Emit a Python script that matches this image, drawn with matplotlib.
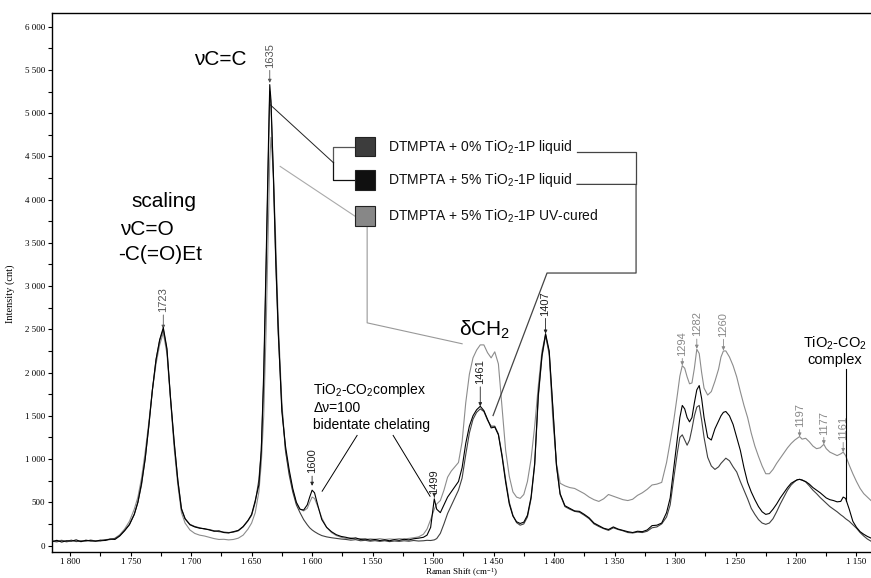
import matplotlib
matplotlib.use("Agg")
import matplotlib.pyplot as plt
from matplotlib.patches import Rectangle
from matplotlib.ticker import MultipleLocator, FuncFormatter

# Raman shift grid (cm-1), rows of 10
shift = [
    1815, 1811, 1807, 1803, 1799, 1795, 1791, 1787, 1783, 1779,
    1775, 1771, 1767, 1763, 1759, 1755, 1751, 1747, 1744, 1741,
    1738, 1735, 1732, 1729, 1726, 1723, 1720, 1717, 1714, 1711,
    1708, 1705, 1701, 1697, 1693, 1689, 1685, 1681, 1677, 1673,
    1669, 1665, 1661, 1657, 1653, 1650, 1647, 1644, 1642, 1640,
    1638, 1636, 1635, 1634, 1632, 1630, 1628, 1625, 1622, 1619,
    1616, 1613, 1610, 1607, 1604, 1602, 1600, 1598, 1595, 1592,
    1588, 1584, 1580, 1576, 1572, 1568, 1564, 1560, 1556, 1552,
    1548, 1544, 1540, 1536, 1532, 1528, 1524, 1520, 1516, 1512,
    1508, 1505, 1502, 1499, 1497, 1494, 1491, 1488, 1485, 1482,
    1479, 1476, 1473, 1470, 1467, 1464, 1461, 1458, 1455, 1452,
    1449, 1446, 1443, 1440, 1437, 1434, 1431, 1428, 1425, 1422,
    1419, 1416, 1413, 1410, 1407, 1404, 1401, 1398, 1395, 1391,
    1387, 1383, 1379, 1375, 1371, 1367, 1363, 1359, 1355, 1351,
    1347, 1343, 1339, 1335, 1331, 1327, 1323, 1319, 1315, 1311,
    1307, 1304, 1301, 1298, 1296, 1294, 1292, 1290, 1288, 1286,
    1284, 1282, 1280, 1278, 1276, 1273, 1270, 1267, 1264, 1262,
    1260, 1258, 1255, 1252, 1249, 1246, 1243, 1240, 1237, 1234,
    1231, 1228, 1225, 1222, 1219, 1216, 1213, 1210, 1207, 1204,
    1201, 1199, 1197, 1195, 1192, 1189, 1186, 1183, 1180, 1177,
    1175, 1172, 1169, 1166, 1163, 1161, 1159, 1156, 1153, 1150,
    1147, 1144, 1141, 1138,
]

# DTMPTA + 0% TiO2-1P liquid
liquid_0 = [
    50, 42, 58, 48, 62, 45, 55, 50, 63, 52,
    55, 68, 72, 80, 115, 175, 245, 360, 500, 700,
    1000, 1380, 1800, 2150, 2370, 2500, 2260, 1700, 1180, 760,
    430, 310, 245, 220, 205, 190, 185, 170, 160, 155,
    150, 155, 170, 215, 285, 350, 500, 760, 1100, 1900,
    3200, 4600, 5250, 5100, 4250, 3250, 2450, 1600, 1100, 820,
    620, 470, 380, 300, 240, 205, 180, 160, 135, 115,
    100, 90, 82, 75, 70, 62, 68, 55, 60, 50,
    56, 48, 55, 45, 52, 48, 55, 50, 58, 52,
    55, 60, 58, 65, 80, 140, 250, 370, 460, 550,
    640, 780, 1050, 1300, 1460, 1540, 1580, 1550, 1450, 1380,
    1380, 1290, 1050, 760, 500, 350, 265, 235, 250, 330,
    540, 930, 1720, 2180, 2430, 2230, 1580, 920, 590, 450,
    420, 395, 385, 350, 310, 250, 220, 195, 175, 205,
    185, 170, 150, 145, 155, 150, 165, 205, 215, 250,
    330, 470, 780, 1080, 1250, 1280, 1220, 1160, 1220, 1350,
    1500, 1600, 1620, 1450, 1250, 1020, 920, 880, 910, 950,
    980, 1010, 980, 910, 850, 740, 640, 540, 430, 360,
    300, 260, 245, 260, 310, 390, 480, 560, 640, 700,
    740, 760, 765, 760, 735, 690, 640, 600, 555, 515,
    490, 450, 420, 390, 355, 335, 310, 280, 240, 200,
    150, 110, 75, 50,
]

# DTMPTA + 5% TiO2-1P liquid
liquid_5 = [
    45, 60, 40, 55, 50, 65, 45, 60, 55, 50,
    62, 58, 75, 70, 110, 170, 240, 360, 500, 720,
    1000, 1380, 1800, 2150, 2380, 2520, 2280, 1700, 1200, 750,
    420, 310, 240, 215, 200, 195, 180, 165, 170, 150,
    145, 160, 175, 220, 290, 360, 520, 700, 1100, 2000,
    3300, 4700, 5330, 5150, 4300, 3300, 2500, 1550, 1150, 880,
    660, 500, 420, 410, 470, 560, 640, 610, 450, 300,
    210, 160, 125, 105, 95, 80, 88, 70, 75, 62,
    70, 58, 66, 55, 68, 60, 72, 65, 78, 85,
    95, 120, 210, 540, 420, 380, 470, 560, 620, 680,
    740, 900, 1180, 1380, 1500, 1570, 1610, 1560, 1460, 1360,
    1370, 1280, 1030, 730, 480, 340, 275, 255, 270, 350,
    560, 950, 1750, 2200, 2450, 2250, 1600, 930, 600, 460,
    430, 400, 395, 360, 320, 260, 230, 200, 185, 215,
    190, 175, 160, 150, 165, 160, 180, 230, 235, 260,
    380, 550, 900, 1250, 1480, 1620, 1580, 1480, 1430, 1480,
    1650, 1800, 1850, 1700, 1480, 1250, 1220, 1350, 1440, 1500,
    1540, 1550, 1500, 1400, 1250, 1100, 900, 730, 620, 530,
    450, 390, 360, 370, 420, 480, 550, 610, 670, 720,
    745, 760, 765, 755, 740, 710, 670, 640, 610, 575,
    550, 530, 520, 505, 510, 560, 545, 420, 280, 210,
    160, 130, 105, 86,
]

# DTMPTA + 5% TiO2-1P UV-cured
cured_5 = [
    55, 48, 62, 40, 58, 50, 45, 62, 48, 55,
    50, 60, 68, 85, 125, 190, 280, 420, 560, 780,
    1080, 1420, 1800, 2100, 2320, 2460, 2220, 1680, 1120, 700,
    380, 260, 180, 140, 120, 110, 95, 80, 70, 72,
    65, 70, 85, 120, 190, 260, 380, 620, 950, 1500,
    2500, 3800, 4450, 4720, 4300, 3500, 2600, 1650, 1100, 850,
    640, 490, 420, 400, 430, 500, 560, 545, 440, 320,
    210, 150, 115, 95, 82, 90, 75, 80, 70, 78,
    72, 80, 70, 76, 72, 80, 75, 82, 90, 100,
    130, 190, 300, 420, 480, 520, 640, 790, 860, 910,
    960, 1200, 1650, 1980, 2170, 2260, 2320, 2320, 2230, 2170,
    2240, 2100, 1600, 1100, 800, 620, 560, 545, 590, 740,
    1000, 1380, 1850, 2250, 2440, 2200, 1450, 950, 720, 690,
    670, 660, 630, 600, 560, 530, 510, 540, 590, 570,
    550, 530, 520, 535, 580, 610, 650, 700, 710, 730,
    960, 1200, 1450, 1750, 1960, 2080, 2050, 1950, 1870, 1880,
    2050, 2270, 2220, 2000, 1820, 1740, 1780, 1900, 2040, 2180,
    2250, 2250, 2180, 2080, 1950, 1780, 1620, 1480, 1300, 1150,
    1030, 920, 830, 830, 880, 950, 1010, 1070, 1130, 1180,
    1220, 1240, 1260, 1230, 1240, 1200, 1150, 1120, 1130, 1170,
    1120, 1080, 1060, 1040, 1060, 1080, 1040, 930, 830, 740,
    660, 600, 560, 520,
]

series_names = [
    "DTMPTA + 0% TiO$\\mathregular{_2}$-1P liquid",
    "DTMPTA + 5% TiO$\\mathregular{_2}$-1P liquid",
    "DTMPTA + 5% TiO$\\mathregular{_2}$-1P UV-cured",
]

# marked peaks: position, top of the peak, label colour
peak_shift = [1723, 1635, 1600, 1499, 1461, 1407, 1294, 1282, 1260, 1197, 1177, 1161]
peak_top = [2506, 5350, 690, 560, 1610, 2450, 2083, 2275, 2256, 1260, 1170, 1080]
label_gap = [12, 11, 9, 2, 16, 13, 7, 9, 10, 7, 7, 9]
label_color = ["#555555", "#555555", "#222222", "#222222", "#222222", "#222222",
               "#888888", "#888888", "#888888", "#888888", "#888888", "#888888"]

line_colors = ["#404040", "#000000", "#8c8c8c"]
box_colors = ["#3c3c3c", "#101010", "#878787"]

plt.rcParams['font.family'] = ['Liberation Sans', 'DejaVu Sans']

fig = plt.figure(figsize=(8.71, 5.78), dpi=100)
ax = fig.add_axes([52 / 871, 26 / 578, 819 / 871, 539 / 578])

ax.plot(shift, cured_5, color=line_colors[2], lw=0.8, zorder=2)
ax.plot(shift, liquid_0, color=line_colors[0], lw=0.8, zorder=3)
ax.plot(shift, liquid_5, color=line_colors[1], lw=0.8, zorder=4)

ax.set_xlim(1815, 1138)
ax.set_ylim(-75, 6158)

ax.spines['right'].set_visible(False)
for s in ['left', 'top', 'bottom']:
    ax.spines[s].set_linewidth(1.0)

space_fmt = FuncFormatter(lambda v, p: f"{v:,.0f}".replace(",", " "))
ax.xaxis.set_major_locator(MultipleLocator(50))
ax.xaxis.set_minor_locator(MultipleLocator(25))
ax.yaxis.set_major_locator(MultipleLocator(500))
ax.yaxis.set_minor_locator(MultipleLocator(250))
ax.xaxis.set_major_formatter(space_fmt)
ax.yaxis.set_major_formatter(space_fmt)
ax.tick_params(which='both', direction='out', width=0.8, length=3, labelsize=6.5, pad=2)
ax.tick_params(axis='x', which='both', pad=1)
for lab in ax.get_xticklabels() + ax.get_yticklabels():
    lab.set_family('Liberation Serif')

ax.set_xlabel("Raman Shift (cm$\\mathregular{^{-1}}$)", family='Liberation Serif',
              fontsize=6.5, labelpad=0.5)
ax.set_ylabel("Intensity (cnt)", family='Liberation Serif', fontsize=7.5)
ax.yaxis.set_label_coords(-0.045, 0.48)

# peak position labels
for wn, top, gap, col in zip(peak_shift, peak_top, label_gap, label_color):
    ax.annotate(str(wn), xy=(wn, top), xytext=(0, gap), textcoords='offset points',
                rotation=90, ha='center', va='bottom', fontsize=8, color=col,
                arrowprops=dict(arrowstyle='-|>', color=col, lw=0.6,
                                mutation_scale=5, shrinkA=0, shrinkB=0))

# band assignments
big = dict(fontsize=15, color='black')
ax.text(1676, 5616, "\u03bdC=C", ha='center', va='center', **big)
ax.text(1749, 3980, "scaling", ha='left', va='center', **big)
ax.text(1759, 3658, "\u03bdC=O", ha='left', va='center', **big)
ax.text(1760, 3370, "-C(=O)Et", ha='left', va='center', **big)
ax.text(1457, 2494, "\u03b4CH$\\mathregular{_2}$", ha='center', va='center', **big)

ax.text(1599, 1610, "TiO$\\mathregular{_2}$-CO$\\mathregular{_2}$complex\n"
        "\u0394\u03bd=100\nbidentate chelating",
        ha='left', va='center', fontsize=10, linespacing=1.25)
ax.plot([1562.8, 1591.7], [1273, 628], color='black', lw=0.7)
ax.plot([1533, 1502.5], [1273, 570], color='black', lw=0.7)

ax.text(1168, 2250, "TiO$\\mathregular{_2}$-CO$\\mathregular{_2}$\ncomplex",
        ha='center', va='center', fontsize=10.5, linespacing=1.1)
ax.plot([1158.7, 1158.7], [2045, 513], color='black', lw=0.8)

# legend boxes and texts
box_y = [4614, 4228, 3808]
for name, y, fc in zip(series_names, box_y, box_colors):
    ax.add_patch(Rectangle((1548, y - 115), 16.5, 230, facecolor=fc,
                           edgecolor='#222222', lw=0.8, zorder=5))
    ax.text(1537, y, name, ha='left', va='center', fontsize=10, color='#111111')

# connectors from legend to peaks
ax.plot([1634.7, 1582.6], [5098, 4430], color='#222222', lw=0.7)
ax.plot([1582.6, 1582.6, 1564.5], [4430, 4603, 4603], color='#555555', lw=0.9)
ax.plot([1582.6, 1582.6, 1564.5], [4430, 4228, 4228], color='#111111', lw=0.9)
ax.plot([1626.4, 1564.5], [4384, 3808], color='#aaaaaa', lw=0.8)
ax.plot([1554.5, 1554.5, 1476], [3692, 2575, 2333], color='#999999', lw=0.8)
ax.plot([1381, 1332.2, 1332.2], [4545, 4545, 4176], color='#444444', lw=0.9)
ax.plot([1381, 1332.2, 1332.2, 1405.8, 1450.4], [4176, 4176, 3151, 3151, 1503],
        color='#444444', lw=0.9)

fig.savefig("out.png", dpi=100)
